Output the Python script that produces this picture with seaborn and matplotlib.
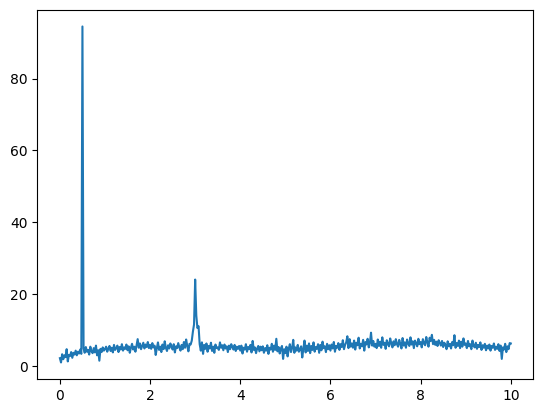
import numpy as np
import pandas as pd
import matplotlib
matplotlib.use("Agg")
import matplotlib.pyplot as plt
import seaborn as sns

# ─────────────────────────────────────────
# DATA (0.025 step from 0 to 10)
# ─────────────────────────────────────────

t = np.linspace(0, 10, 401)

signal = [
    # 0.0 - 0.475
    2.1, 0.9, 3.2, 1.8, 2.9, 2.4, 4.6, 1.2, 3.0, 2.7, 3.8, 2.2, 3.6, 3.1, 4.2, 2.9, 3.9, 3.4, 4.5, 3.3,
    # 0.5 - 0.975 (sharp spike at 0.5)
    94.5, 4.8, 3.6, 5.2, 3.9, 4.4, 3.1, 5.3, 4.0, 3.5, 4.9, 3.7, 5.6, 2.9, 4.3, 1.4, 4.7, 3.8, 5.1, 4.2,
    # 1.0 - 1.475
    4.6, 5.3, 3.9, 4.8, 5.5, 4.1, 5.0, 3.7, 5.8, 4.4, 4.9, 5.6, 3.8, 5.2, 4.5, 6.0, 4.2, 5.1, 4.7, 5.9,
    # 1.5 - 1.975
    4.3, 5.4, 3.6, 5.0, 6.1, 4.5, 5.3, 3.9, 5.7, 7.4, 5.0, 6.2, 4.6, 5.5, 6.4, 4.8, 5.9, 5.2, 6.6, 4.9,
    # 2.0 - 2.475
    5.8, 4.7, 6.3, 5.1, 5.6, 3.0, 4.9, 6.5, 4.4, 5.3, 3.8, 5.9, 4.6, 6.8, 5.0, 4.1, 5.7, 4.8, 6.2, 5.3,
    # 2.5 - 2.975
    4.5, 6.0, 3.7, 5.4, 4.9, 6.3, 5.1, 4.2, 5.8, 4.6, 6.6, 5.0, 7.3, 5.5, 4.0, 6.1, 5.9, 7.0, 9.5, 11.5,
    # 3.0 - 3.475 (broader peak at 3.0)
    24.0, 14.0, 10.5, 11.0, 6.0, 4.2, 6.5, 3.3, 5.8, 4.7, 6.2, 3.9, 5.5, 4.8, 6.4, 4.1, 5.3, 3.6, 5.9, 4.9,
    # 3.5 - 3.975
    5.1, 4.4, 6.5, 5.0, 5.7, 4.3, 5.9, 4.8, 5.4, 3.8, 5.6, 4.6, 6.0, 5.2, 4.5, 5.8, 4.1, 5.3, 4.7, 5.5,
    # 4.0 - 4.475
    4.2, 5.6, 3.4, 5.0, 4.5, 6.0, 3.9, 5.2, 4.6, 5.8, 3.7, 6.9, 4.4, 5.1, 3.5, 4.8, 5.5, 4.0, 5.3, 4.3,
    # 4.5 - 4.975
    5.4, 3.6, 4.9, 4.2, 5.7, 3.3, 5.0, 4.5, 6.1, 3.9, 5.6, 4.4, 7.5, 4.0, 5.2, 3.4, 4.8, 5.5, 1.9, 4.6,
    # 5.0 - 5.475
    3.5, 5.3, 2.6, 4.7, 6.0, 3.8, 4.9, 7.2, 3.6, 5.1, 4.2, 5.8, 3.9, 4.6, 5.4, 2.3, 4.8, 7.0, 3.7, 5.6,
    # 5.5 - 5.975
    4.1, 6.2, 3.5, 5.5, 4.4, 6.5, 3.9, 5.2, 4.7, 6.0, 3.6, 5.8, 4.3, 6.7, 4.9, 5.4, 3.8, 6.1, 4.6, 5.7,
    # 6.0 - 6.475
    4.2, 5.9, 4.8, 6.6, 3.9, 5.5, 5.0, 6.3, 4.4, 6.0, 5.2, 7.1, 4.6, 5.8, 6.5, 8.2, 4.9, 7.4, 5.3, 6.2,
    # 6.5 - 6.975
    5.0, 7.0, 4.5, 6.4, 5.7, 7.8, 4.8, 6.1, 5.4, 7.2, 4.2, 6.6, 5.9, 7.5, 5.1, 6.3, 9.2, 5.6, 6.9, 5.3,
    # 7.0 - 7.475
    6.1, 4.9, 7.3, 5.5, 6.7, 5.0, 7.9, 5.8, 6.4, 4.7, 7.1, 6.0, 5.4, 7.6, 6.2, 5.1, 6.8, 5.7, 7.4, 6.0,
    # 7.5 - 7.975
    5.3, 7.2, 6.1, 4.8, 7.7, 5.6, 6.5, 5.0, 7.3, 6.2, 5.5, 7.9, 5.9, 6.8, 4.9, 7.0, 6.3, 5.4, 7.5, 6.0,
    # 8.0 - 8.475
    6.6, 5.1, 7.4, 6.2, 5.7, 8.0, 6.5, 5.3, 7.8, 6.9, 8.6, 6.0, 7.2, 5.8, 6.7, 5.5, 7.1, 6.3, 5.6, 6.9,
    # 8.5 - 8.975
    5.2, 6.4, 5.9, 4.6, 6.8, 5.4, 6.1, 4.8, 6.6, 5.7, 8.5, 5.0, 6.3, 5.5, 7.0, 4.9, 6.7, 5.3, 7.6, 5.8,
    # 9.0 - 9.475
    6.2, 4.9, 6.9, 5.4, 6.0, 4.6, 7.0, 5.5, 5.1, 6.4, 4.7, 5.8, 5.2, 6.5, 4.4, 5.7, 5.0, 6.1, 4.3, 5.6,
    # 9.5 - 9.975
    4.8, 5.9, 4.2, 5.5, 5.0, 6.2, 4.4, 5.3, 4.7, 6.0, 4.1, 5.6, 1.9, 5.1, 4.5, 6.1, 3.8, 5.4, 4.6, 6.3,
    # 10.0
    6.2,
]

df = pd.DataFrame({"t": t, "signal": signal})

# ─────────────────────────────────────────
# PLOT
# ─────────────────────────────────────────

fig, ax = plt.subplots(figsize=(6.4, 4.8), dpi=100)
sns.lineplot(data=df, x="t", y="signal", ax=ax, color="#1f77b4", linewidth=1.5)
ax.set_xlabel("")
ax.set_ylabel("")
ax.set_xticks([0, 2, 4, 6, 8, 10])
ax.set_yticks([0, 20, 40, 60, 80])

plt.savefig("out.png", dpi=100, bbox_inches="tight")
